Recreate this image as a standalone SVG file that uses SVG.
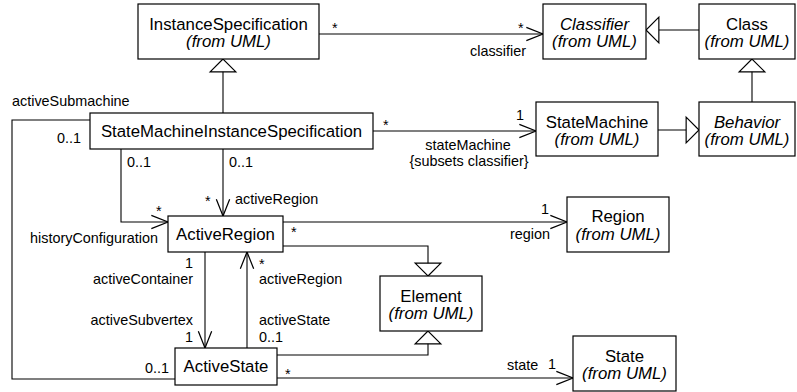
<svg xmlns="http://www.w3.org/2000/svg" width="797" height="392" viewBox="0 0 797 392">
<style>
  .box { fill: #fff; stroke: #000; stroke-width: 1.2; }
  .n { font-family: "Liberation Sans", Arial, sans-serif; font-size: 16.8px; fill: #000; text-anchor: middle; }
  .i { font-style: italic; }
  .l { font-family: "Liberation Sans", Arial, sans-serif; font-size: 14.4px; fill: #000; }
  .e { text-anchor: end; }
  .m { text-anchor: middle; }
  .c { fill: none; stroke: #000; stroke-width: 1.1; }
  .a { marker-end: url(#open); }
  .g { marker-end: url(#gen); }
</style>
<defs>
  <marker id="open" markerUnits="userSpaceOnUse" markerWidth="20" markerHeight="20" viewBox="-16 -8 18 16" refX="0" refY="0" orient="auto" overflow="visible">
    <path d="M-15,-6 L0,0 L-15,6" fill="none" stroke="#000" stroke-width="1.1"/>
  </marker>
  <marker id="gen" markerUnits="userSpaceOnUse" markerWidth="30" markerHeight="30" viewBox="-14 -14 16 28" refX="0" refY="0" orient="auto" overflow="visible">
    <path d="M0,0 L-12,-12 L-12,12 Z" fill="#fff" stroke="#000" stroke-width="1.1"/>
  </marker>
</defs>
<rect width="797" height="392" fill="#fff"/>

<g id="connectors">
  <path class="c a" d="M319,34 H543"/>
  <path class="c g" d="M223,113 V59"/>
  <path class="c g" d="M699,30 H646"/>
  <path class="c g" d="M752,102 V59"/>
  <path class="c g" d="M658,130 H699"/>
  <path class="c a" d="M373,131 H536"/>
  <path class="c" d="M90,120 H12 V379 H175"/>
  <path class="c a" d="M121,149 V222 H168"/>
  <path class="c a" d="M223,149 V216"/>
  <path class="c a" d="M283,222 H567"/>
  <path class="c g" d="M283,246 H428 V276"/>
  <path class="c a" d="M205,252 V348"/>
  <path class="c a" d="M247,348 V252"/>
  <path class="c g" d="M277,355 H428 V331"/>
  <path class="c a" d="M277,378 H573"/>
</g>

<g id="labels">
  <text class="l" x="332" y="33">*</text>
  <text class="l" x="518" y="33">*</text>
  <text class="l" x="470" y="56">classifier</text>
  <text class="l" x="383" y="130">*</text>
  <text class="l" x="516" y="120">1</text>
  <text class="l m" x="468" y="150">stateMachine</text>
  <text class="l m" x="469" y="166">{subsets classifier}</text>
  <text class="l" x="12" y="106">activeSubmachine</text>
  <text class="l" x="57" y="143">0..1</text>
  <text class="l" x="127" y="167">0..1</text>
  <text class="l" x="229" y="167">0..1</text>
  <text class="l" x="156" y="216">*</text>
  <text class="l" x="205" y="206">*</text>
  <text class="l" x="235" y="204">activeRegion</text>
  <text class="l" x="30" y="243">historyConfiguration</text>
  <text class="l" x="291" y="237">*</text>
  <text class="l" x="541" y="214">1</text>
  <text class="l" x="510" y="239">region</text>
  <text class="l e" x="193" y="268">1</text>
  <text class="l e" x="193" y="284">activeContainer</text>
  <text class="l e" x="193" y="325">activeSubvertex</text>
  <text class="l e" x="193" y="342">1</text>
  <text class="l" x="259" y="269">*</text>
  <text class="l" x="259" y="284">activeRegion</text>
  <text class="l" x="259" y="325">activeState</text>
  <text class="l" x="259" y="342">0..1</text>
  <text class="l" x="145" y="373">0..1</text>
  <text class="l" x="285" y="379">*</text>
  <text class="l" x="507" y="370">state</text>
  <text class="l" x="548" y="369">1</text>
</g>

<g id="InstanceSpecification">
  <rect class="box" x="138" y="4" width="181" height="55"/>
  <text class="n" x="228.5" y="30">InstanceSpecification</text>
  <text class="n i" x="228.5" y="47">(from UML)</text>
</g>
<g id="Classifier">
  <rect class="box" x="543" y="4" width="103" height="55"/>
  <text class="n i" x="594.5" y="30">Classifier</text>
  <text class="n i" x="594.5" y="47">(from UML)</text>
</g>
<g id="Class">
  <rect class="box" x="699" y="4" width="96" height="55"/>
  <text class="n" x="747" y="30">Class</text>
  <text class="n i" x="747" y="47">(from UML)</text>
</g>
<g id="StateMachineInstanceSpecification">
  <rect class="box" x="90" y="113" width="283" height="36"/>
  <text class="n" x="231.5" y="137">StateMachineInstanceSpecification</text>
</g>
<g id="StateMachine">
  <rect class="box" x="536" y="102" width="122" height="54"/>
  <text class="n" x="597" y="128">StateMachine</text>
  <text class="n i" x="597" y="145">(from UML)</text>
</g>
<g id="Behavior">
  <rect class="box" x="699" y="102" width="96" height="54"/>
  <text class="n i" x="747" y="128">Behavior</text>
  <text class="n i" x="747" y="145">(from UML)</text>
</g>
<g id="ActiveRegion">
  <rect class="box" x="168" y="216" width="115" height="36"/>
  <text class="n" x="225.5" y="240">ActiveRegion</text>
</g>
<g id="Region">
  <rect class="box" x="567" y="197" width="102" height="55"/>
  <text class="n" x="618" y="222">Region</text>
  <text class="n i" x="618" y="240">(from UML)</text>
</g>
<g id="Element">
  <rect class="box" x="380" y="276" width="102" height="55"/>
  <text class="n" x="431" y="302">Element</text>
  <text class="n i" x="431" y="319">(from UML)</text>
</g>
<g id="ActiveState">
  <rect class="box" x="175" y="348" width="102" height="37"/>
  <text class="n" x="226" y="372">ActiveState</text>
</g>
<g id="State">
  <rect class="box" x="573" y="336" width="103" height="55"/>
  <text class="n" x="624.5" y="362">State</text>
  <text class="n i" x="624.5" y="379">(from UML)</text>
</g>
</svg>
